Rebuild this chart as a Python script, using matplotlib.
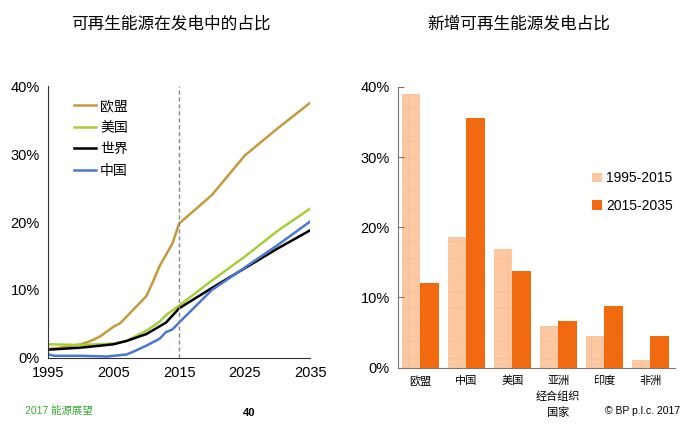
import matplotlib
matplotlib.use("Agg")
import matplotlib.pyplot as plt
from matplotlib.patches import Patch
from matplotlib.ticker import PercentFormatter

plt.rcParams['font.family'] = ['Liberation Sans', 'Noto Sans CJK SC', 'DejaVu Sans']
plt.rcParams['hatch.linewidth'] = 0.5

# left chart: share of renewables in power generation (%)
years_eu = [1995, 1997, 2000, 2001, 2002, 2003, 2005, 2006, 2008, 2010, 2011, 2012, 2014, 2015, 2020, 2025, 2030, 2035]
eu = [1.3, 1.5, 2.0, 2.3, 2.7, 3.2, 4.6, 5.1, 7.1, 9.1, 11.2, 13.5, 16.9, 19.8, 24.0, 29.8, 33.8, 37.6]

years_us = [1995, 2000, 2005, 2007, 2010, 2012, 2013, 2015, 2020, 2025, 2030, 2035]
us = [2.0, 1.9, 2.1, 2.5, 4.0, 5.3, 6.3, 7.7, 11.4, 14.9, 18.7, 22.0]

years_world = [1995, 2000, 2005, 2007, 2010, 2013, 2015, 2020, 2025, 2030, 2035]
world = [1.2, 1.5, 2.0, 2.5, 3.5, 5.2, 7.3, 10.3, 13.2, 16.1, 18.8]

years_cn = [1995, 1996, 2000, 2004, 2007, 2008, 2010, 2012, 2013, 2014, 2015, 2020, 2025, 2030, 2035]
cn = [0.5, 0.3, 0.3, 0.2, 0.5, 0.9, 1.8, 2.8, 3.8, 4.2, 5.2, 10.0, 13.3, 16.6, 20.1]

# right chart: share of renewables growth (%)
regions = ['欧盟', '中国', '美国', '亚洲\n经合组织\n国家', '印度', '非洲']
share_1995_2015 = [39.0, 18.6, 16.9, 5.9, 4.5, 1.1]
share_2015_2035 = [12.0, 35.6, 13.7, 6.6, 8.8, 4.5]

c_eu = '#C49A3C'
c_us = '#A6CE39'
c_world = '#000000'
c_cn = '#4A78D0'
c_light = '#FBC8A2'
c_dark = '#F26A10'

fig = plt.figure(figsize=(6.97, 4.26), dpi=100)

# ---- left chart
ax1 = fig.add_axes([0.069, 0.160, 0.376, 0.637])
ax1.plot(years_eu, eu, color=c_eu, lw=1.8, label='欧盟')
ax1.plot(years_us, us, color=c_us, lw=1.8, label='美国')
ax1.plot(years_world, world, color=c_world, lw=1.8, label='世界')
ax1.plot(years_cn, cn, color=c_cn, lw=1.8, label='中国')
ax1.axvline(2015, color='#888888', lw=1, ls=(0, (3, 2)))
ax1.set_xlim(1995, 2035)
ax1.set_ylim(0, 40)
ax1.set_xticks([1995, 2005, 2015, 2025, 2035])
ax1.set_yticks([0, 10, 20, 30, 40])
ax1.yaxis.set_major_formatter(PercentFormatter(decimals=0))
ax1.tick_params(length=0, labelsize=10.5, pad=6)
for s in ['top', 'right']:
    ax1.spines[s].set_visible(False)
for s in ['left', 'bottom']:
    ax1.spines[s].set_color('#333333')
ax1.legend(loc='upper left', bbox_to_anchor=(0.05, 1.0), frameon=False,
           fontsize=10, handlelength=1.6, handletextpad=0.3, labelspacing=0.55)
fig.text(0.245, 0.945, '可再生能源在发电中的占比', ha='center', va='center', fontsize=12)

# ---- right chart
ax2 = fig.add_axes([0.571, 0.137, 0.398, 0.659])
x = range(len(regions))
w = 0.4
ax2.bar([i - w / 2 for i in x], share_1995_2015, w, color=c_light,
        edgecolor='#F9BD94', lw=0, hatch='+', label='1995-2015')
ax2.bar([i + w / 2 for i in x], share_2015_2035, w, color=c_dark, lw=0, label='2015-2035')
ax2.set_xlim(-0.49, 5.55)
ax2.set_ylim(0, 40)
ax2.set_xticks(list(x))
ax2.set_xticklabels(regions, fontsize=8, linespacing=1.6)
ax2.set_yticks([0, 10, 20, 30, 40])
ax2.yaxis.set_major_formatter(PercentFormatter(decimals=0))
ax2.tick_params(axis='y', length=4, direction='in', labelsize=10.5, pad=6, color='#777777')
ax2.tick_params(axis='x', length=0, pad=6)
for s in ['top', 'right']:
    ax2.spines[s].set_visible(False)
for s in ['left', 'bottom']:
    ax2.spines[s].set_color('#777777')
handles = [Patch(facecolor=c_light, edgecolor='#F9BD94', hatch='+', lw=0, label='1995-2015'),
           Patch(facecolor=c_dark, lw=0, label='2015-2035')]
ax2.legend(handles=handles, loc='center left', bbox_to_anchor=(0.655, 0.625), frameon=False,
           fontsize=10, handlelength=0.7, handleheight=0.7, handletextpad=0.3, labelspacing=1.0)
fig.text(0.745, 0.945, '新增可再生能源发电占比', ha='center', va='center', fontsize=12)

# ---- footer
fig.text(0.036, 0.036, '2017 能源展望', color='#3AAA35', fontsize=7.5, va='center')
fig.text(0.358, 0.030, '40', fontsize=8, fontweight='bold', va='center', ha='center')
fig.text(0.976, 0.036, '© BP p.l.c. 2017', fontsize=7.5, va='center', ha='right')

fig.savefig('out.png', dpi=100)
